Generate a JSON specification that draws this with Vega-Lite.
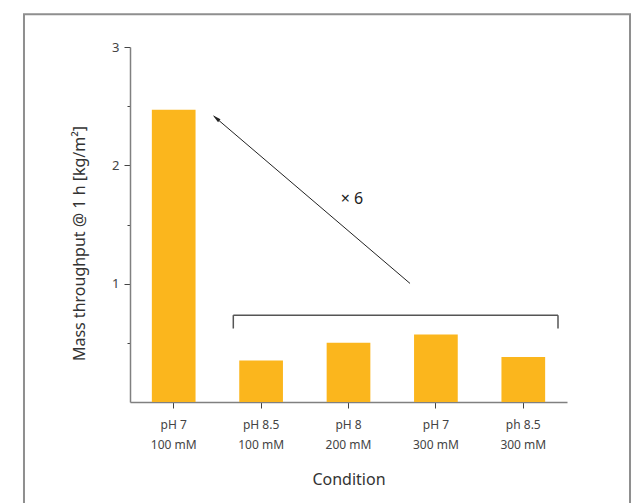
{
  "$schema": "https://vega.github.io/schema/vega-lite/v6.json",
  "width": 437,
  "height": 355,
  "autosize": {"type": "none"},
  "padding": {"left": 130, "top": 47, "right": 75, "bottom": 101},
  "background": "white",
  "config": {
    "view": {"stroke": null},
    "font": "Noto Sans",
    "axis": {"labelFont": "Noto Sans", "titleFont": "Noto Sans", "titleFontWeight": "normal"},
    "axisY": {"labelFontSize": 13, "labelColor": "#444444"}
  },
  "datasets": {
    "bars": [
      {"condition": "pH 7|100 mM", "throughput": 2.47},
      {"condition": "pH 8.5|100 mM", "throughput": 0.35},
      {"condition": "pH 8|200 mM", "throughput": 0.50},
      {"condition": "pH 7|300 mM", "throughput": 0.57},
      {"condition": "ph 8.5|300 mM", "throughput": 0.38}
    ],
    "frame": [{"x": -1.213, "x2": 5.721, "throughput": 3.276, "y2": -0.99}],
    "arrow": [{"x": 3.204, "throughput": 1.002, "x2": 0.96, "y2": 2.415}],
    "head": [{"x": 0.985, "throughput": 2.400}],
    "bracket": [
      {"x": 1.182, "throughput": 0.734, "x2": 4.897, "y2": 0.734},
      {"x": 1.182, "throughput": 0.734, "x2": 1.182, "y2": 0.621},
      {"x": 4.897, "throughput": 0.734, "x2": 4.897, "y2": 0.621}
    ],
    "label": [{"x": 2.54, "throughput": 1.712, "text": "× 6"}]
  },
  "layer": [
    {
      "data": {"name": "bars"},
      "mark": {"type": "bar", "color": "#FBB61D"},
      "encoding": {
        "x": {
          "field": "condition", "type": "nominal", "sort": null,
          "scale": {"paddingInner": 0.5, "paddingOuter": 0.25},
          "axis": {
            "title": "Condition",
            "titleFontSize": 16, "titleColor": "#333333", "titlePadding": 21,
            "labelExpr": "split(datum.label, '|')",
            "labelAngle": 0, "labelFontSize": 12, "labelColor": "#444444",
            "labelLineHeight": 20, "labelPadding": 11, "labelBaseline": "top",
            "domainColor": "#808080", "domainWidth": 1.5,
            "tickColor": "#444444", "tickSize": 6, "tickWidth": 1
          }
        },
        "y": {
          "field": "throughput", "type": "quantitative",
          "scale": {"domain": [0, 3], "nice": false},
          "axis": {
            "title": "Mass throughput @ 1 h [kg/m²]",
            "titleFontSize": 16, "titleColor": "#333333", "titlePadding": 24, "titleY": 196,
            "values": [0.5, 1, 1.5, 2, 2.5, 3],
            "labelExpr": "datum.value % 1 === 0 ? '' + datum.value : ''",
            "labelPadding": 5,
            "domainColor": "#808080", "domainWidth": 1.5,
            "tickColor": "#444444", "tickWidth": 1,
            "tickSize": {"condition": {"test": "datum.value % 1 === 0", "value": 6}, "value": 3},
            "grid": false
          }
        }
      }
    },
    {
      "data": {"name": "frame"},
      "mark": {"type": "rect", "fill": null, "stroke": "#8f8f8f", "strokeWidth": 2, "clip": false},
      "encoding": {
        "x": {"field": "x", "type": "quantitative", "scale": {"domain": [0, 5], "nice": false, "zero": false}, "axis": null},
        "x2": {"field": "x2"},
        "y": {"field": "throughput", "type": "quantitative", "scale": {"domain": [0, 3], "nice": false}},
        "y2": {"field": "y2"}
      }
    },
    {
      "data": {"name": "arrow"},
      "mark": {"type": "rule", "color": "#222222", "strokeWidth": 1},
      "encoding": {
        "x": {"field": "x", "type": "quantitative", "scale": {"domain": [0, 5], "nice": false, "zero": false}, "axis": null},
        "x2": {"field": "x2"},
        "y": {"field": "throughput", "type": "quantitative", "scale": {"domain": [0, 3], "nice": false}},
        "y2": {"field": "y2"}
      }
    },
    {
      "data": {"name": "head"},
      "mark": {"type": "point", "shape": "M0,-1L0.45,1L-0.45,1Z", "filled": true, "color": "#222222", "size": 70, "angle": 310.45, "opacity": 1},
      "encoding": {
        "x": {"field": "x", "type": "quantitative", "scale": {"domain": [0, 5], "nice": false, "zero": false}, "axis": null},
        "y": {"field": "throughput", "type": "quantitative", "scale": {"domain": [0, 3], "nice": false}}
      }
    },
    {
      "data": {"name": "bracket"},
      "mark": {"type": "rule", "color": "#555555", "strokeWidth": 1.5},
      "encoding": {
        "x": {"field": "x", "type": "quantitative", "scale": {"domain": [0, 5], "nice": false, "zero": false}, "axis": null},
        "x2": {"field": "x2"},
        "y": {"field": "throughput", "type": "quantitative", "scale": {"domain": [0, 3], "nice": false}},
        "y2": {"field": "y2"}
      }
    },
    {
      "data": {"name": "label"},
      "mark": {"type": "text", "fontSize": 16, "color": "#222222", "align": "center", "baseline": "middle"},
      "encoding": {
        "x": {"field": "x", "type": "quantitative", "scale": {"domain": [0, 5], "nice": false, "zero": false}, "axis": null},
        "y": {"field": "throughput", "type": "quantitative", "scale": {"domain": [0, 3], "nice": false}},
        "text": {"field": "text"}
      }
    }
  ],
  "resolve": {"scale": {"x": "independent"}}
}
